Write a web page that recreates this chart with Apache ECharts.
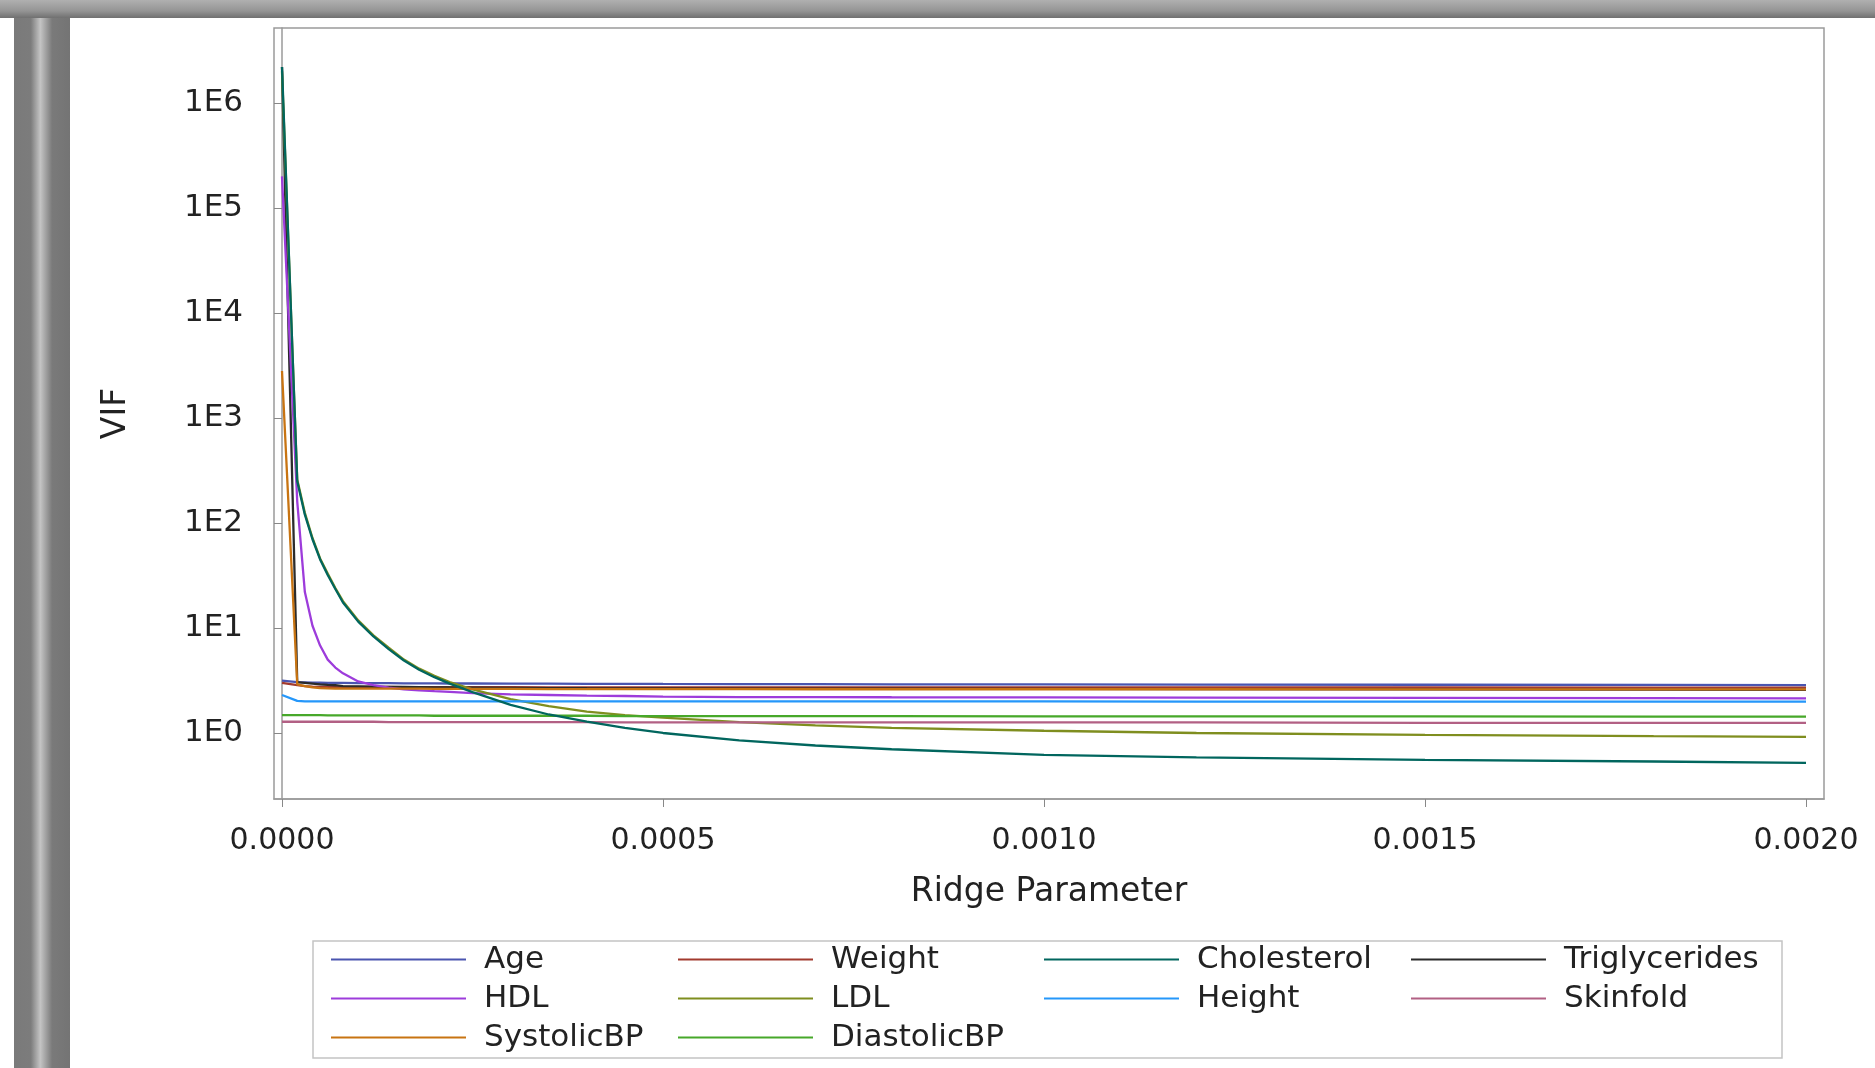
<!DOCTYPE html>
<html><head><meta charset="utf-8">
<script src="https://cdn.jsdelivr.net/npm/echarts@6/dist/echarts.min.js"></script>
<style>html,body{margin:0;padding:0;background:#fff}#c{width:1875px;height:1068px}</style>
</head><body><div id="c"></div>
<script>
// ---- data ----
const ridge = [0, 0.00002, 0.00003, 0.00004, 0.00005, 0.00006, 0.00007, 0.00008, 0.0001, 0.00012, 0.00014, 0.00016, 0.00018, 0.0002, 0.00022, 0.00025, 0.0003, 0.00035, 0.0004, 0.00045, 0.0005, 0.0006, 0.0007, 0.0008, 0.001, 0.0012, 0.0015, 0.0018, 0.002];
const seriesNames = ['Age','Weight','Cholesterol','Triglycerides','HDL','LDL','Height','Skinfold','SystolicBP','DiastolicBP'];
const age          = [3.15, 3.05, 3.04, 3.02, 3.01, 3.0, 3.0, 3.0, 2.99, 2.98, 2.98, 2.97, 2.97, 2.97, 2.96, 2.96, 2.95, 2.95, 2.94, 2.94, 2.93, 2.92, 2.92, 2.91, 2.9, 2.89, 2.88, 2.87, 2.86];
const weight       = [3.0, 2.85, 2.8, 2.76, 2.75, 2.74, 2.74, 2.74, 2.74, 2.74, 2.74, 2.73, 2.73, 2.73, 2.73, 2.73, 2.73, 2.72, 2.72, 2.72, 2.72, 2.72, 2.72, 2.72, 2.71, 2.71, 2.71, 2.7, 2.7];
const cholesterol  = [2200000, 250, 120, 70, 45, 32, 23.5, 17.5, 11.5, 8.3, 6.3, 4.9, 4.0, 3.4, 2.95, 2.45, 1.85, 1.5, 1.28, 1.12, 1.0, 0.85, 0.76, 0.7, 0.62, 0.585, 0.555, 0.535, 0.52];
const triglycerides= [2200000, 3.05, 3.0, 2.95, 2.9, 2.87, 2.85, 2.8, 2.78, 2.76, 2.75, 2.74, 2.73, 2.72, 2.71, 2.7, 2.69, 2.68, 2.67, 2.665, 2.66, 2.65, 2.645, 2.64, 2.63, 2.62, 2.6, 2.59, 2.58];
const hdl          = [200000, 160, 22, 10.5, 6.8, 5.0, 4.2, 3.7, 3.1, 2.85, 2.7, 2.6, 2.55, 2.5, 2.46, 2.4, 2.33, 2.3, 2.27, 2.25, 2.22, 2.2, 2.2, 2.19, 2.18, 2.17, 2.16, 2.15, 2.14];
const ldl          = [2000000, 260, 125, 72, 46, 33, 24, 18, 11.8, 8.5, 6.5, 5.0, 4.1, 3.5, 3.05, 2.6, 2.1, 1.8, 1.6, 1.48, 1.4, 1.27, 1.18, 1.12, 1.05, 1.0, 0.96, 0.935, 0.92];
const height       = [2.3, 2.02, 2.0, 2.0, 2.0, 2.0, 2.0, 2.0, 2.0, 2.0, 2.0, 2.0, 2.0, 2.0, 2.0, 2.0, 2.0, 2.0, 2.0, 2.0, 2.0, 2.0, 2.0, 2.0, 2.0, 1.99, 1.99, 1.99, 1.99];
const skinfold     = [1.28, 1.28, 1.28, 1.28, 1.28, 1.28, 1.28, 1.28, 1.28, 1.28, 1.27, 1.27, 1.27, 1.27, 1.27, 1.27, 1.27, 1.27, 1.27, 1.26, 1.26, 1.26, 1.26, 1.26, 1.26, 1.26, 1.25, 1.25, 1.25];
const systolicBP   = [2800, 2.9, 2.8, 2.72, 2.68, 2.66, 2.65, 2.65, 2.65, 2.64, 2.64, 2.64, 2.64, 2.63, 2.63, 2.63, 2.63, 2.62, 2.62, 2.62, 2.62, 2.62, 2.61, 2.61, 2.61, 2.61, 2.6, 2.6, 2.6];
const diastolicBP  = [1.48, 1.48, 1.48, 1.48, 1.48, 1.47, 1.47, 1.47, 1.47, 1.47, 1.47, 1.47, 1.47, 1.46, 1.46, 1.46, 1.46, 1.46, 1.46, 1.45, 1.45, 1.45, 1.45, 1.45, 1.44, 1.44, 1.44, 1.43, 1.43];
const seriesValues = [age, weight, cholesterol, triglycerides, hdl, ldl, height, skinfold, systolicBP, diastolicBP];
const seriesColors = ['#4a55b0','#a23a2e','#01665e','#2b2b2b','#9d3cdb','#7f8e1f','#2597fa','#b26084','#c87412','#47a82a'];
const xTicks = [0, 0.0005, 0.001, 0.0015, 0.002];
const yTicks = [1, 10, 100, 1000, 10000, 100000, 1000000];
const yTickLabels = ['1E0','1E1','1E2','1E3','1E4','1E5','1E6'];
const legendColumns = [['Age','HDL','SystolicBP'], ['Weight','LDL','DiastolicBP'], ['Cholesterol','Height'], ['Triglycerides','Skinfold']];

// ---- layout ----
const legendLeft = [331, 678, 1044, 1411];
const FONT = 'DejaVu Sans';
const chart = echarts.init(document.getElementById('c'), null, {renderer: 'canvas'});

const option = {
  animation: false,
  backgroundColor: '#ffffff',
  grid: {left: 274, top: 28, width: 1550, height: 771, show: true, borderColor: '#9a9a9a', borderWidth: 1.5, backgroundColor: '#ffffff'},
  xAxis: {
    type: 'value', min: -0.0000105, max: 0.0020236,
    axisLine: {show: true, lineStyle: {color: '#9a9a9a', width: 1.5}},
    axisTick: {show: true, customValues: xTicks, length: 8, lineStyle: {color: '#888'}},
    axisLabel: {customValues: xTicks, formatter: v => v.toFixed(4), fontSize: 30, color: '#222', margin: 27, fontFamily: FONT},
    splitLine: {show: false},
    name: 'Ridge Parameter', nameLocation: 'middle', nameGap: 77,
    nameTextStyle: {fontSize: 33, color: '#222', fontFamily: FONT}
  },
  yAxis: {
    type: 'log', logBase: 10, min: 0.2351, max: 5180000,
    axisLine: {show: true, lineStyle: {color: '#9a9a9a', width: 1.5}},
    axisTick: {show: true, customValues: yTicks, length: 8, lineStyle: {color: '#888'}},
    axisLabel: {customValues: yTicks, formatter: v => yTickLabels[Math.round(Math.log10(v))], fontSize: 31, color: '#222', margin: 31, fontFamily: FONT},
    splitLine: {show: false},
    name: 'VIF', nameLocation: 'middle', nameGap: 141, nameRotate: 90,
    nameTextStyle: {fontSize: 33, color: '#222', fontFamily: FONT}
  },
  legend: legendColumns.map((col, i) => ({
    data: col, orient: 'vertical', left: legendLeft[i], top: 944,
    itemWidth: 135, itemHeight: 2, icon: 'rect', itemGap: 8, padding: 0,
    selectedMode: false,
    textStyle: {fontSize: 31, lineHeight: 30.5, color: '#222', fontFamily: FONT, padding: [0, 0, 0, 13]}
  })),
  series: seriesNames.map((name, i) => ({
    name, type: 'line', showSymbol: false, symbol: 'none',
    color: seriesColors[i],
    z: name === 'Cholesterol' ? 3 : 2,
    lineStyle: {width: 2.3, color: seriesColors[i]},
    data: ridge.map((k, j) => [k, seriesValues[i][j]])
  })),
  graphic: [
    {type: 'rect', shape: {x: 0, y: 0, width: 1875, height: 18}, z: 100,
     style: {fill: new echarts.graphic.LinearGradient(0, 0, 0, 1, [{offset: 0, color: '#b0b0b0'}, {offset: 0.6, color: '#959595'}, {offset: 1, color: '#707070'}])}},
    {type: 'rect', shape: {x: 14, y: 18, width: 56, height: 1050}, z: 100,
     style: {fill: new echarts.graphic.LinearGradient(0, 0, 1, 0, [{offset: 0, color: '#7a7a7a'}, {offset: 0.3, color: '#7c7c7c'}, {offset: 0.47, color: '#c4c4c4'}, {offset: 0.68, color: '#7a7a7a'}, {offset: 1, color: '#747474'}])}},
    {type: 'rect', shape: {x: 313, y: 941, width: 1469, height: 117}, z: 1,
     style: {fill: 'none', stroke: '#c4c4c4', lineWidth: 1.5}}
  ]
};
chart.setOption(option);
</script>
</body></html>
